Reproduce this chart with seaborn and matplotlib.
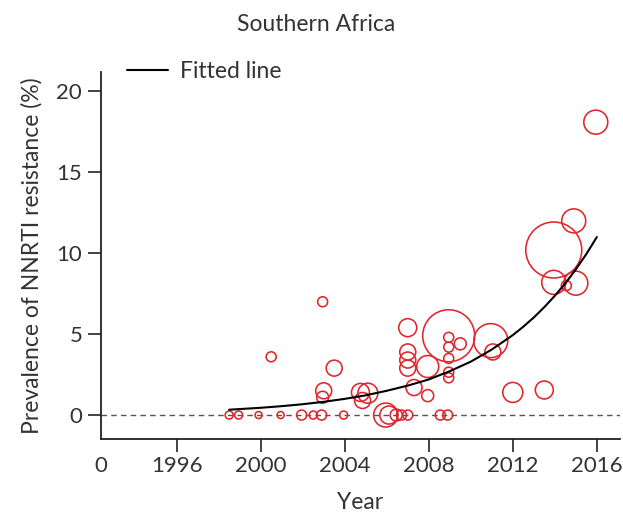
import numpy as np
import pandas as pd
import matplotlib
matplotlib.use("Agg")
import matplotlib.pyplot as plt
import seaborn as sns

# =====================================
# Data
# =====================================

study_year = [
    1998.5, 1998.95, 1999.9, 2000.95, 2001.95, 2002.5, 2002.9, 2003.95,
    2005.95, 2006.1, 2006.45, 2006.7, 2007.0, 2008.55, 2008.9,
    2000.5, 2002.95, 2003.5, 2003.0, 2002.95, 2004.75, 2005.1, 2004.85,
    2007.0, 2007.0, 2007.0, 2007.0, 2007.95, 2007.3, 2007.95,
    2008.95, 2008.95, 2008.95, 2008.95, 2008.95, 2008.95, 2009.5,
    2010.95, 2011.05, 2012.0, 2013.5, 2013.95, 2014.9, 2013.95, 2015.0,
    2014.55, 2015.95,
]

prevalence = [
    0, 0, 0, 0, 0, 0, 0, 0,
    0, 0, 0, 0, 0, 0, 0,
    3.6, 7.0, 2.9, 1.5, 1.1, 1.4, 1.35, 0.9,
    5.4, 3.9, 3.4, 2.9, 3.0, 1.7, 1.2,
    4.9, 4.8, 4.2, 3.5, 2.65, 2.3, 4.4,
    4.6, 3.9, 1.4, 1.55, 10.2, 12.0, 8.2, 8.15,
    8.0, 18.1,
]

sample_size = [
    128, 128, 98, 98, 200, 128, 200, 128,
    1152, 648, 288, 200, 200, 200, 200,
    200, 200, 512, 512, 288, 648, 800, 512,
    648, 512, 512, 512, 968, 512, 288,
    5408, 200, 200, 200, 200, 200, 288,
    2312, 512, 800, 648, 6272, 1152, 1152, 1152,
    200, 1152,
]

fit_year = [
    1998.5, 1999, 2000, 2001, 2002, 2003, 2004, 2005, 2006, 2007,
    2008, 2009, 2010, 2011, 2012, 2012.5, 2013, 2013.5, 2014, 2014.5,
    2015, 2015.5, 2016,
]
fit_value = [
    0.33, 0.37, 0.45, 0.55, 0.67, 0.82, 1.0, 1.22, 1.5, 1.82,
    2.2, 2.71, 3.3, 4.05, 4.94, 5.46, 6.03, 6.67, 7.37, 8.14,
    9.0, 9.95, 11.0,
]

year_ticks = [1996, 2000, 2004, 2008, 2012, 2016]
prev_ticks = [0, 5, 10, 15, 20]

df = pd.DataFrame({
    "year": study_year,
    "prevalence": prevalence,
    "n": sample_size,
})

# =====================================
# Style
# =====================================

sns.set_style("ticks")
plt.rcParams["font.family"] = ["Lato", "DejaVu Sans"]

text_color = "#333333"
red = "#e0262c"

fig = plt.figure(figsize=(6.23, 5.16), dpi=100)
ax = fig.add_axes([0.1621, 0.1492, 0.8330, 0.7113])

x_min, x_max = 1992.4, 2017.1

# =====================================
# Chart
# =====================================

ax.axhline(0, color="#555555", lw=1.0, ls=(0, (4, 3)), zorder=1)

sns.scatterplot(
    data=df,
    x="year",
    y="prevalence",
    s=df["n"] * 0.259,
    facecolor="none",
    edgecolor=red,
    linewidth=1.15,
    ax=ax,
    zorder=2,
    legend=False,
)

sns.lineplot(
    x=fit_year,
    y=fit_value,
    color="black",
    lw=1.5,
    label="Fitted line",
    ax=ax,
    zorder=3,
)

ax.set_xlim(x_min, x_max)
ax.set_ylim(-1.48, 21.2)

ax.set_xticks([x_min] + year_ticks, labels=["0"] + [str(y) for y in year_ticks])
ax.xaxis.get_major_ticks()[0].tick1line.set_visible(False)
ax.set_yticks(prev_ticks)

ax.tick_params(
    axis="both",
    direction="out",
    length=9.5,
    width=1.2,
    labelsize=16,
    labelcolor=text_color,
    color="#222222",
)
ax.tick_params(axis="x", pad=3)
ax.tick_params(axis="y", pad=4)

sns.despine(ax=ax)
for side in ["left", "bottom"]:
    ax.spines[side].set_linewidth(1.3)
    ax.spines[side].set_color("#222222")

ax.set_xlabel("Year", fontsize=16.5, color=text_color, labelpad=11)
ax.set_ylabel(
    "Prevalence of NNRTI resistance (%)",
    fontsize=16.5,
    color=text_color,
    labelpad=10,
)

fig.text(
    0.507,
    0.952,
    "Southern Africa",
    ha="center",
    va="center",
    fontsize=16.5,
    color=text_color,
)

ax.legend(
    loc="center left",
    bbox_to_anchor=(0.05, 1.0),
    frameon=False,
    fontsize=16.5,
    handlelength=1.8,
    handletextpad=0.5,
    borderpad=0,
    borderaxespad=0,
    labelcolor=text_color,
)

fig.savefig("out.png", dpi=100)
